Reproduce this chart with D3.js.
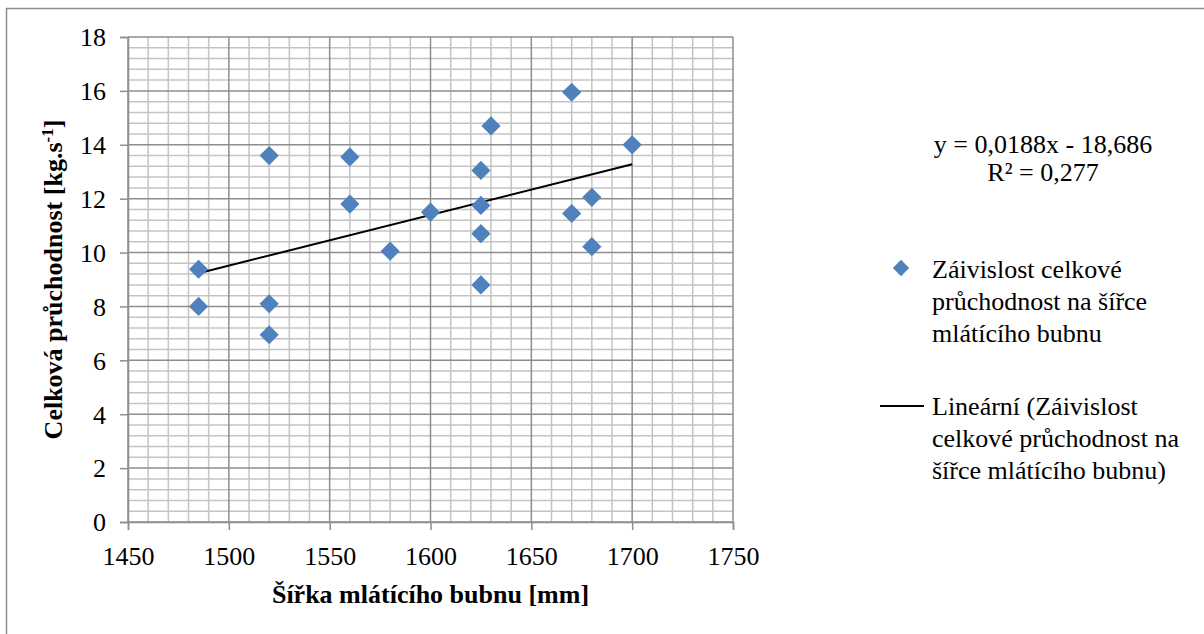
<!DOCTYPE html>
<html>
<head>
<meta charset="utf-8">
<script src="https://cdn.jsdelivr.net/npm/d3@7"></script>
<style>
  body { margin: 0; background: #fff; }
  svg text { font-family: "Liberation Serif", Tinos, "Times New Roman", Times, serif !important; fill: #000; }
</style>
</head>
<body>
<svg id="chart" width="1204" height="634"></svg>
<script>
// data
const widths = [1485, 1485, 1520, 1520, 1520, 1560, 1560, 1580, 1600, 1625, 1625, 1625, 1625, 1630, 1670, 1670, 1680, 1680, 1700];
const throughput = [9.38, 8.0, 13.6, 8.1, 6.95, 13.55, 11.8, 10.05, 11.5, 13.05, 11.75, 10.7, 8.8, 14.7, 15.95, 11.45, 12.05, 10.22, 14.0];
const xTicks = [1450, 1500, 1550, 1600, 1650, 1700, 1750];
const yTicks = [0, 2, 4, 6, 8, 10, 12, 14, 16, 18];
const trendCoef = [0.0188, -18.686]; // slope, intercept
const trendText = ["y = 0,0188x - 18,686", "R² = 0,277"];
const seriesName = ["Záivislost celkové", "průchodnost na šířce", "mlátícího bubnu"];
const trendName = ["Lineární (Záivislost", "celkové průchodnost na", "šířce mlátícího bubnu)"];

const points = widths.map((w, i) => ({ x: w, y: throughput[i] }));

const svg = d3.select("#chart");
const margin = { left: 128, top: 37 };
const innerW = 605, innerH = 485;
const fs = "26px";

// outer chart border
svg.append("rect")
    .attr("x", 6.5).attr("y", 8.5)
    .attr("width", 1300).attr("height", 700)
    .attr("fill", "none")
    .attr("stroke", "#8c8c8c")
    .attr("stroke-width", 1.5);

const g = svg.append("g")
    .attr("transform", `translate(${margin.left},${margin.top})`);

const x = d3.scaleLinear().domain([1450, 1750]).range([0, innerW]);
const y = d3.scaleLinear().domain([0, 18]).range([innerH, 0]);

// minor grid
const minorX = d3.range(1450, 1751, 10).filter(v => v % 50 !== 0);
const minorY = d3.range(0, 45).map(i => i * 0.4).filter((v, i) => i % 5 !== 0);

g.selectAll("line.minor-x").data(minorX).enter().append("line")
    .attr("x1", d => x(d)).attr("x2", d => x(d))
    .attr("y1", 0).attr("y2", innerH)
    .attr("stroke", "#c4c4c4").attr("stroke-width", 1.5);

g.selectAll("line.minor-y").data(minorY).enter().append("line")
    .attr("x1", 0).attr("x2", innerW)
    .attr("y1", d => y(d)).attr("y2", d => y(d))
    .attr("stroke", "#c4c4c4").attr("stroke-width", 1.5);

// major grid
g.selectAll("line.major-x").data(xTicks).enter().append("line")
    .attr("x1", d => x(d)).attr("x2", d => x(d))
    .attr("y1", 0).attr("y2", innerH)
    .attr("stroke", "#8e8e8e").attr("stroke-width", 1.5);

g.selectAll("line.major-y").data(yTicks).enter().append("line")
    .attr("x1", 0).attr("x2", innerW)
    .attr("y1", d => y(d)).attr("y2", d => y(d))
    .attr("stroke", "#8e8e8e").attr("stroke-width", 1.5);

// axes
const xAxis = g.append("g")
    .attr("transform", `translate(0,${innerH})`)
    .call(d3.axisBottom(x).tickValues(xTicks).tickSize(8).tickPadding(10).tickFormat(d3.format("d")));
const yAxis = g.append("g")
    .call(d3.axisLeft(y).tickValues(yTicks).tickSize(8).tickPadding(14).tickFormat(d3.format("d")));

[xAxis, yAxis].forEach(a => {
    a.attr("font-family", null).attr("font-size", null);
    a.select(".domain").attr("stroke", "#8e8e8e").attr("stroke-width", 1.5);
    a.selectAll(".tick line").attr("stroke", "#8e8e8e").attr("stroke-width", 1.5);
    a.selectAll(".tick text")
        .style("font-size", fs)
        .attr("fill", "#000");
});
yAxis.selectAll(".tick text").attr("dy", "0.34em");
xAxis.selectAll(".tick text").attr("dy", "0.95em");

// trend line
const x0 = d3.min(widths), x1 = d3.max(widths);
const trend = [x0, x1].map(v => ({ x: v, y: trendCoef[0] * v + trendCoef[1] }));
g.append("path")
    .datum(trend)
    .attr("d", d3.line().x(d => x(d.x)).y(d => y(d.y)))
    .attr("fill", "none")
    .attr("stroke", "#000")
    .attr("stroke-width", 2);

// markers
const diamond = d3.symbol().type(d3.symbolDiamond2).size(235);
g.selectAll("path.pt").data(points).enter().append("path")
    .attr("class", "pt")
    .attr("d", diamond)
    .attr("transform", d => `translate(${x(d.x)},${y(d.y)})`)
    .attr("fill", "#4f81bd");

// axis titles
svg.append("text")
    .attr("x", margin.left + innerW / 2)
    .attr("y", 603)
    .attr("text-anchor", "middle")
    .style("font-size", fs)
    .style("font-weight", "bold")
    .text("Šířka mlátícího bubnu [mm]");

const yTitle = svg.append("text")
    .attr("transform", `translate(62,${margin.top + innerH / 2}) rotate(-90)`)
    .attr("text-anchor", "middle")
    .style("font-size", fs)
    .style("font-weight", "bold");
yTitle.append("tspan").text("Celková průchodnost [kg.s");
yTitle.append("tspan").attr("dy", -9).style("font-size", "17px").text("-1");
yTitle.append("tspan").attr("dy", 9).text("]");

// trendline equation
svg.append("g").selectAll("text").data(trendText).enter().append("text")
    .attr("x", 1043)
    .attr("y", (d, i) => 153 + i * 28)
    .attr("text-anchor", "middle")
    .style("font-size", fs)
    .text(d => d);

// legend
const leg = svg.append("g");
leg.append("path")
    .attr("d", d3.symbol().type(d3.symbolDiamond2).size(170))
    .attr("transform", "translate(901,268)")
    .attr("fill", "#4f81bd");
leg.selectAll("text.s").data(seriesName).enter().append("text")
    .attr("x", 932)
    .attr("y", (d, i) => 278 + i * 32)
    .style("font-size", fs)
    .text(d => d);

leg.append("line")
    .attr("x1", 880).attr("x2", 924)
    .attr("y1", 406).attr("y2", 406)
    .attr("stroke", "#000").attr("stroke-width", 2);
leg.selectAll("text.t").data(trendName).enter().append("text")
    .attr("x", 932)
    .attr("y", (d, i) => 415 + i * 32)
    .style("font-size", fs)
    .text(d => d);
</script>
</body>
</html>
